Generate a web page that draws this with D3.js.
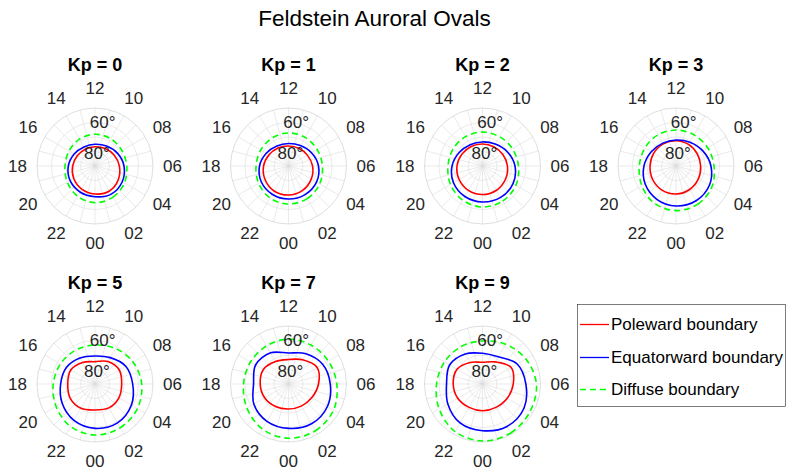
<!DOCTYPE html>
<html>
<head>
<meta charset="utf-8">
<script src="https://cdn.jsdelivr.net/npm/d3@7/dist/d3.min.js"></script>
<style>
  html, body { margin: 0; padding: 0; background: #fff; }
  svg { display: block; font-family: "Liberation Sans", Arial, Helvetica, sans-serif; }
</style>
</head>
<body>
<svg id="chart" width="789" height="473"></svg>
<script>
// ---- Data (magnetic latitude in degrees at each MLT hour) ----
const mltHours = [0, 2, 4, 6, 8, 10, 12, 14, 16, 18, 20, 22];
const kpLevels = [0, 1, 2, 3, 5, 7, 9];
const thetaTickLabels = ["00","02","04","06","08","10","12","14","16","18","20","22"];
const rTickValues = [80, 60];
const rTickLabels = ["80°", "60°"];
const rGridValues = [80, 70, 60];
const seriesNames = ["Poleward boundary", "Equatorward boundary", "Diffuse boundary"];

const poleward = [
  [70.7,70.1,71.4,73.2,74.8,76.0,76.7,76.6,75.9,74.6,73.0,71.6],
  [70.0,70.6,71.9,73.4,75.0,75.9,76.2,75.6,74.5,72.8,71.3,70.1],
  [70.3,70.7,71.7,72.8,73.9,74.6,74.8,74.4,73.6,72.4,71.4,70.6],
  [70.7,71.3,72.2,73.0,73.1,72.8,72.6,72.4,72.3,72.1,71.4,70.8],
  [72.1,71.0,71.0,71.6,70.7,72.1,74.6,72.8,70.7,71.2,70.3,70.7],
  [72.8,72.4,71.4,69.3,67.2,70.7,73.1,72.1,70.0,70.5,71.0,72.1],
  [71.6,71.4,70.3,68.8,67.2,72.4,75.0,72.8,69.7,69.8,70.3,71.4]
];
const equatorward = [
  [68.8,67.6,68.3,70.0,72.2,74.1,75.0,74.8,73.4,71.6,70.1,69.3],
  [67.2,67.2,67.7,69.3,71.7,73.7,74.5,74.0,72.3,70.0,68.3,67.5],
  [65.2,65.0,65.7,67.6,70.3,72.5,73.4,73.0,71.4,69.0,66.9,65.7],
  [62.4,62.3,63.4,65.9,68.8,71.0,72.1,71.8,70.3,67.9,65.4,63.5],
  [59.4,59.0,61.0,64.0,65.5,69.0,70.7,69.3,67.2,66.3,63.8,61.0],
  [59.4,58.3,59.0,61.2,62.8,65.9,68.6,65.2,63.8,65.9,62.4,60.3],
  [57.8,56.2,56.9,60.1,62.4,68.3,68.8,66.1,63.8,65.2,62.4,59.0]
];
const diffuse = [
  [64.7,65.2,66.6,68.1,68.6,68.3,68.1,68.6,69.3,69.3,67.9,65.9],
  [63.8,64.1,65.2,66.6,67.2,67.2,67.2,67.6,67.9,67.6,66.2,64.5],
  [61.7,62.1,63.4,65.2,66.2,66.6,66.6,66.6,66.6,66.2,64.5,62.8],
  [59.2,59.7,61.4,63.8,64.8,65.2,65.2,65.2,65.2,64.7,62.8,60.3],
  [54.8,55.2,56.2,57.8,59.7,61.7,63.1,63.1,62.4,61.2,59.0,56.2],
  [52.6,52.8,54.1,56.7,58.3,59.0,59.0,59.7,59.7,59.0,56.9,54.1],
  [50.7,51.0,52.1,52.8,55.5,58.3,60.3,60.3,59.7,58.3,55.5,52.1]
];

// ---- Layout ----
const svg = d3.select("#chart");
const R = 58;
const colX = [95, 288.5, 482.5, 676];
const rowY = [166, 384];
const panelPos = [[0,0],[1,0],[2,0],[3,0],[0,1],[1,1],[2,1]];
const colors = ["#ff0000", "#0000ff", "#00ff00"];
const dashes = [null, null, "6,4"];
const tickColor = "#262626";

const rScale = d3.scaleLinear().domain([90, 50]).range([0, R]);
const aScale = d3.scaleLinear().domain([0, 24]).range([Math.PI, -Math.PI]);

svg.append("text")
  .attr("x", 374.5).attr("y", 26)
  .attr("text-anchor", "middle")
  .attr("font-size", 22.5)
  .attr("fill", "#000")
  .text("Feldstein Auroral Ovals");

const lineGen = d3.lineRadial()
  .angle(d => aScale(d[0]))
  .radius(d => rScale(d[1]))
  .curve(d3.curveCatmullRomClosed.alpha(0.5));

kpLevels.forEach((kp, i) => {
  const [c, r] = panelPos[i];
  const cx = colX[c], cy = rowY[r];
  const g = svg.append("g").attr("transform", `translate(${cx},${cy})`);

  // spokes every hour
  d3.range(0, 24, 1).forEach(h => {
    const a = aScale(h);
    g.append("line")
      .attr("x1", 0).attr("y1", 0)
      .attr("x2", R * Math.sin(a)).attr("y2", -R * Math.cos(a))
      .attr("stroke", "#dcdcdc").attr("stroke-width", 0.6);
  });
  // rings
  rGridValues.forEach(v => {
    g.append("circle").attr("r", rScale(v))
      .attr("fill", "none").attr("stroke", "#dcdcdc").attr("stroke-width", 0.6);
  });
  g.append("circle").attr("r", rScale(50))
    .attr("fill", "none").attr("stroke", "#d0d0d0").attr("stroke-width", 0.7);

  // curves
  [poleward, equatorward, diffuse].forEach((series, s) => {
    const pts = mltHours.map((h, k) => [h, series[i][k]]);
    g.append("path")
      .attr("d", lineGen(pts))
      .attr("fill", "none")
      .attr("stroke", colors[s])
      .attr("stroke-width", 1.6)
      .attr("stroke-dasharray", dashes[s]);
  });

  // r tick labels
  rTickValues.forEach((v, k) => {
    const rr = rScale(v);
    g.append("text")
      .attr("x", -1 + rr * 0.2)
      .attr("y", -(12.5 + (rr - 14.5) * 1.086))
      .attr("text-anchor", "middle")
      .attr("dominant-baseline", "central")
      .attr("font-size", 17)
      .attr("fill", tickColor)
      .text(rTickLabels[k]);
  });

  // theta tick labels
  mltHours.forEach((h, k) => {
    const a = aScale(h);
    const lr = 77.5;
    g.append("text")
      .attr("x", lr * Math.sin(a)).attr("y", -lr * Math.cos(a))
      .attr("text-anchor", "middle")
      .attr("dominant-baseline", "central")
      .attr("font-size", 17)
      .attr("fill", tickColor)
      .text(thetaTickLabels[k]);
  });

  // subplot title
  svg.append("text")
    .attr("x", cx).attr("y", cy - 95)
    .attr("text-anchor", "middle")
    .attr("font-size", 18)
    .attr("font-weight", "bold")
    .attr("fill", "#000")
    .text(`Kp = ${kp}`);
});

// ---- Legend ----
const lg = svg.append("g");
lg.append("rect")
  .attr("x", 577.5).attr("y", 304.5)
  .attr("width", 208).attr("height", 102)
  .attr("fill", "#fff").attr("stroke", "#262626").attr("stroke-width", 0.6);
const legY = [324.5, 357.5, 389.5];
seriesNames.forEach((name, s) => {
  lg.append("line")
    .attr("x1", 580).attr("x2", 609)
    .attr("y1", legY[s]).attr("y2", legY[s])
    .attr("stroke", colors[s]).attr("stroke-width", 1.3)
    .attr("stroke-dasharray", dashes[s]);
  lg.append("text")
    .attr("x", 611).attr("y", legY[s])
    .attr("dominant-baseline", "central")
    .attr("font-size", 17)
    .attr("fill", "#000")
    .text(name);
});
</script>
</body>
</html>
